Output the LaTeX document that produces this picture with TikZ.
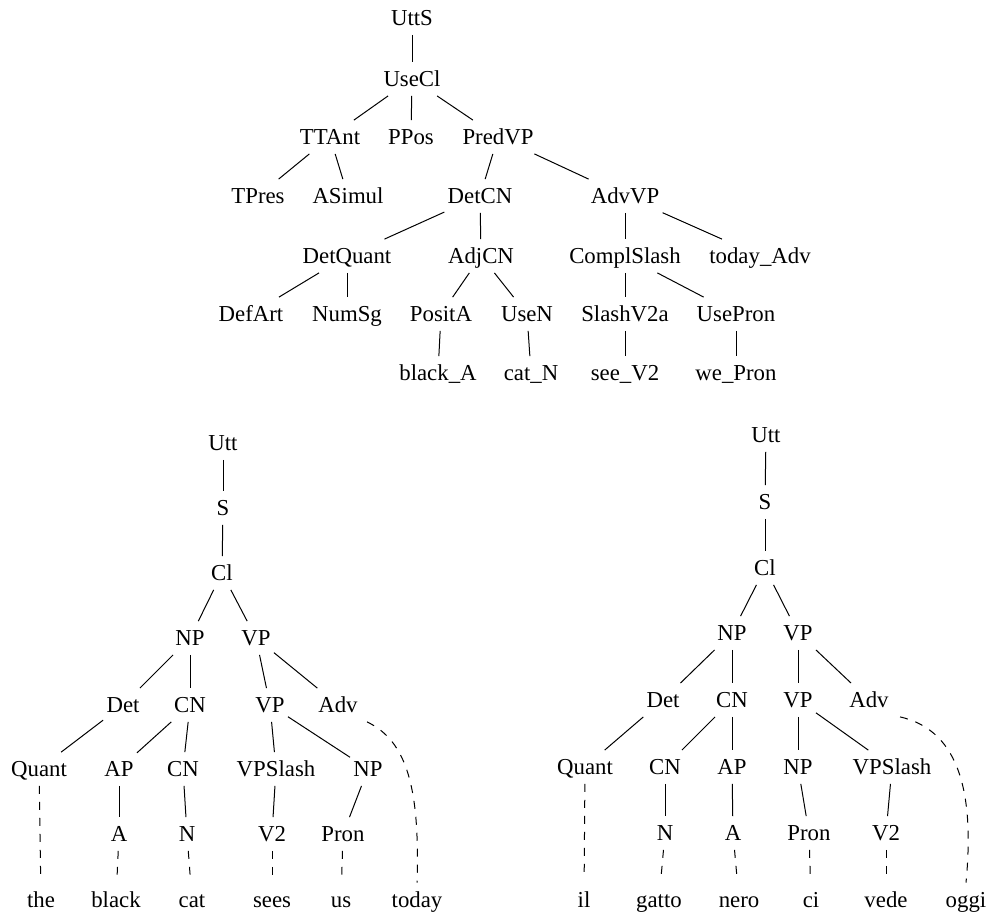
\documentclass[tikz,border=0pt]{standalone}
\usepackage{fontspec}
\setmainfont{Liberation Serif}
\begin{document}
\begin{tikzpicture}[x=0.5pt,y=-0.5pt,
  every node/.style={font=\fontsize{11.4}{13.5}\selectfont},
  tn/.style={inner xsep=1.5pt, inner ysep=0pt, text height=7.5pt, text depth=0pt, minimum height=16.5pt},
  wd/.style={tn, minimum height=25pt},
  ln/.style={line width=0.5pt},
  dln/.style={line width=0.5pt, dash pattern=on 4pt off 4pt}]
\useasboundingbox (0,0) rectangle (996,917);

% ---------- top tree ----------
\node[tn] (t1) at (412,18) {UttS};
\node[tn] (t2) at (412,79) {UseCl};
\node[tn] (t3) at (330,137) {TTAnt};
\node[tn] (t4) at (411,137) {PPos};
\node[tn] (t5) at (498,137) {PredVP};
\node[tn] (t6) at (258,196) {TPres};
\node[tn] (t7) at (348,196) {ASimul};
\node[tn] (t8) at (480,196) {DetCN};
\node[tn] (t9) at (625,196) {AdvVP};
\node[tn] (t10) at (347,256) {DetQuant};
\node[tn] (t11) at (481,256) {AdjCN};
\node[tn] (t12) at (625,256) {ComplSlash};
\node[tn] (t13) at (760,256) {today\_Adv};
\node[tn] (t14) at (251,314) {DefArt};
\node[tn] (t15) at (347,314) {NumSg};
\node[tn] (t16) at (441,314) {PositA};
\node[tn] (t17) at (527,314) {UseN};
\node[tn] (t18) at (625,314) {SlashV2a};
\node[tn] (t19) at (736,314) {UsePron};
\node[tn] (t20) at (438,373) {black\_A};
\node[tn] (t21) at (531,373) {cat\_N};
\node[tn] (t22) at (625,373) {see\_V2};
\node[tn] (t23) at (736,373) {we\_Pron};

\draw[ln] (t1) -- (t2);
\draw[ln] (t2) -- (t3);
\draw[ln] (t2) -- (t4);
\draw[ln] (t2) -- (t5);
\draw[ln] (t3) -- (t6);
\draw[ln] (t3) -- (t7);
\draw[ln] (t5) -- (t8);
\draw[ln] (t5) -- (t9);
\draw[ln] (t8) -- (t10);
\draw[ln] (t8) -- (t11);
\draw[ln] (t9) -- (t12);
\draw[ln] (t9) -- (t13);
\draw[ln] (t10) -- (t14);
\draw[ln] (t10) -- (t15);
\draw[ln] (t11) -- (t16);
\draw[ln] (t11) -- (t17);
\draw[ln] (t12) -- (t18);
\draw[ln] (t12) -- (t19);
\draw[ln] (t16) -- (t20);
\draw[ln] (t17) -- (t21);
\draw[ln] (t18) -- (t22);
\draw[ln] (t19) -- (t23);

% ---------- left tree (English) ----------
\node[tn] (lutt) at (223,443) {Utt};
\node[tn] (ls) at (223,508) {S};
\node[tn] (lcl) at (222,573) {Cl};
\node[tn] (lnp) at (190,638) {NP};
\node[tn] (lvp) at (256,638) {VP};
\node[tn] (ldet) at (123,705) {Det};
\node[tn] (lcn) at (190,705) {CN};
\node[tn] (lvpb) at (270,705) {VP};
\node[tn] (ladv) at (338,705) {Adv};
\node[tn] (lquant) at (39,769) {Quant};
\node[tn] (lap) at (119,769) {AP};
\node[tn] (lcnb) at (183,769) {CN};
\node[tn] (lvps) at (276,769) {VPSlash};
\node[tn] (lnpb) at (368,769) {NP};
\node[tn] (la) at (119,834) {A};
\node[tn] (ln) at (187,834) {N};
\node[tn] (lv) at (272,834) {V2};
\node[tn] (lpron) at (343,834) {Pron};
\node[wd] (wthe) at (41,900) {the};
\node[wd] (wblack) at (116,900) {black};
\node[wd] (wcat) at (192,900) {cat};
\node[wd] (wsees) at (272,900) {sees};
\node[wd] (wus) at (341,900) {us};
\node[wd] (wtoday) at (417,900) {today};

\draw[ln] (lutt) -- (ls);
\draw[ln] (ls) -- (lcl);
\draw[ln] (lcl) -- (lnp);
\draw[ln] (lcl) -- (lvp);
\draw[ln] (lnp) -- (ldet);
\draw[ln] (lnp) -- (lcn);
\draw[ln] (lvp) -- (lvpb);
\draw[ln] (lvp) -- (ladv);
\draw[ln] (ldet) -- (lquant);
\draw[ln] (lcn) -- (lap);
\draw[ln] (lcn) -- (lcnb);
\draw[ln] (lvpb) -- (lvps);
\draw[ln] (lvpb) -- (lnpb);
\draw[ln] (lap) -- (la);
\draw[ln] (lcnb) -- (ln);
\draw[ln] (lvps) -- (lv);
\draw[ln] (lnpb) -- (lpron);
\draw[dln] (lquant) -- (wthe);
\draw[dln] (la) -- (wblack);
\draw[dln] (ln) -- (wcat);
\draw[dln] (lv) -- (wsees);
\draw[dln] (lpron) -- (wus);
\draw[dln] ([xshift=3pt]ladv.south east) .. controls +(40,19) and +(3,-94) .. ([yshift=-4pt]wtoday.north);

% ---------- right tree (Italian) ----------
\node[tn] (rutt) at (766,435) {Utt};
\node[tn] (rs) at (765,502) {S};
\node[tn] (rcl) at (765,568) {Cl};
\node[tn] (rnp) at (732,633) {NP};
\node[tn] (rvp) at (798,633) {VP};
\node[tn] (rdet) at (663,700) {Det};
\node[tn] (rcn) at (732,700) {CN};
\node[tn] (rvpb) at (798,700) {VP};
\node[tn] (radv) at (869,700) {Adv};
\node[tn] (rquant) at (585,767) {Quant};
\node[tn] (rcnb) at (665,767) {CN};
\node[tn] (rap) at (732,767) {AP};
\node[tn] (rnpb) at (798,767) {NP};
\node[tn] (rvps) at (892,767) {VPSlash};
\node[tn] (rn) at (665,833) {N};
\node[tn] (ra) at (733,833) {A};
\node[tn] (rpron) at (809,833) {Pron};
\node[tn] (rv) at (886,833) {V2};
\node[wd] (wil) at (584,900) {il};
\node[wd] (wgatto) at (659,900) {gatto};
\node[wd] (wnero) at (739,900) {nero};
\node[wd] (wci) at (811,900) {ci};
\node[wd] (wvede) at (886,900) {vede};
\node[wd] (woggi) at (966,900) {oggi};

\draw[ln] (rutt) -- (rs);
\draw[ln] (rs) -- (rcl);
\draw[ln] (rcl) -- (rnp);
\draw[ln] (rcl) -- (rvp);
\draw[ln] (rnp) -- (rdet);
\draw[ln] (rnp) -- (rcn);
\draw[ln] (rvp) -- (rvpb);
\draw[ln] (rvp) -- (radv);
\draw[ln] (rdet) -- (rquant);
\draw[ln] (rcn) -- (rcnb);
\draw[ln] (rcn) -- (rap);
\draw[ln] (rvpb) -- (rnpb);
\draw[ln] (rvpb) -- (rvps);
\draw[ln] (rcnb) -- (rn);
\draw[ln] (rap) -- (ra);
\draw[ln] (rnpb) -- (rpron);
\draw[ln] (rvps) -- (rv);
\draw[dln] (rquant) -- (wil);
\draw[dln] (rn) -- (wgatto);
\draw[dln] (ra) -- (wnero);
\draw[dln] (rpron) -- (wci);
\draw[dln] (rv) -- (wvede);
\draw[dln] ([xshift=4pt]radv.south east) .. controls +(62,14) and +(8,-84) .. ([yshift=-4pt]woggi.north);
\end{tikzpicture}
\end{document}
